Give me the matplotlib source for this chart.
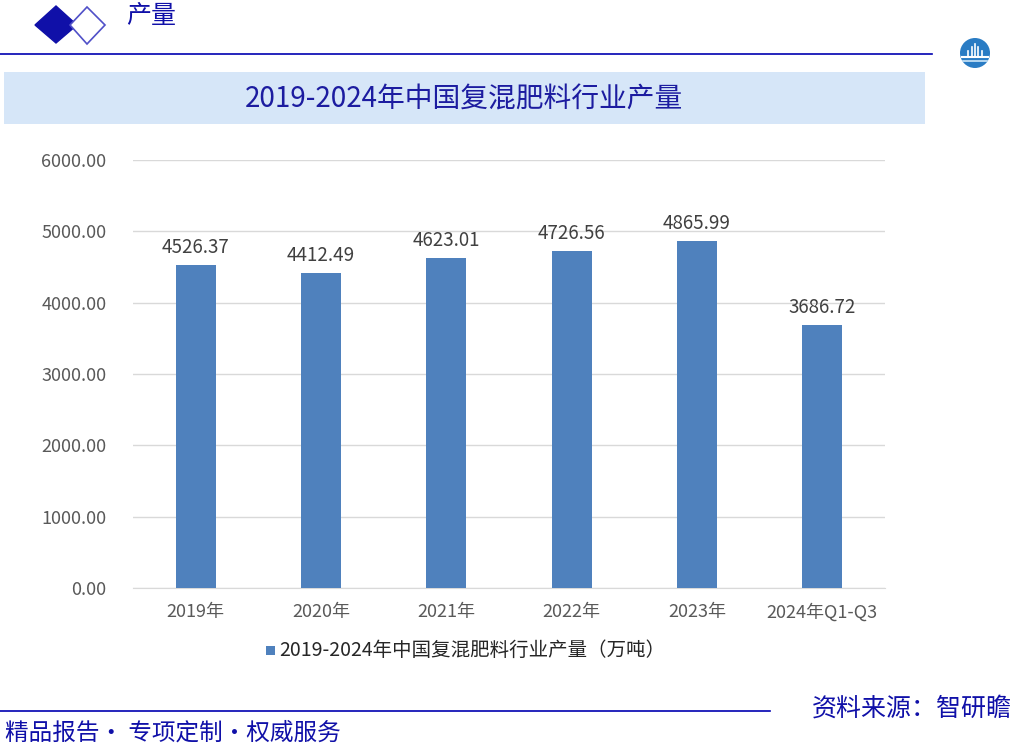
import matplotlib
matplotlib.use("Agg")
import matplotlib.pyplot as plt
from matplotlib.patches import Rectangle, Polygon, Ellipse

plt.rcParams['font.family'] = ['Noto Sans CJK SC', 'DejaVu Sans']

categories = ["2019年", "2020年", "2021年", "2022年", "2023年", "2024年Q1-Q3"]
values = [4526.37, 4412.49, 4623.01, 4726.56, 4865.99, 3686.72]
yticks = [0, 1000, 2000, 3000, 4000, 5000, 6000]
title = "2019-2024年中国复混肥料行业产量"
series_name = "2019-2024年中国复混肥料行业产量（万吨）"
header = "产量"
footer_left = "精品报告· 专项定制·权威服务"
footer_right = "资料来源：智研瞻"

W, H = 1015, 747
fig = plt.figure(figsize=(W / 100, H / 100), dpi=100)

def fx(px):
    return px / W

def fy(py):
    return 1 - py / H

# header decorations
navy = "#1010A8"
fig.patches.append(Polygon([(fx(35), fy(25)), (fx(56), fy(6)), (fx(77), fy(25)), (fx(56), fy(43))],
                           closed=True, facecolor=navy, edgecolor=navy, transform=fig.transFigure))
fig.patches.append(Polygon([(fx(70), fy(25)), (fx(87), fy(7)), (fx(105), fy(25)), (fx(87), fy(44))],
                           closed=True, facecolor="white", edgecolor="#5050C8", lw=1.2, transform=fig.transFigure))
fig.text(fx(126), fy(16), header, color=navy, fontsize=18, va="center", ha="left")
fig.add_artist(plt.Line2D([fx(0), fx(932)], [fy(54), fy(54)], color="#0000B0", lw=1.2, transform=fig.transFigure))

# logo
fig.patches.append(Ellipse((fx(975), fy(53)), 30 / W, 30 / H, facecolor="#2A7CC4", edgecolor="none",
                           transform=fig.transFigure))
fig.add_artist(plt.Line2D([fx(962), fx(988)], [fy(57), fy(57)], color="white", lw=1.5, transform=fig.transFigure))
fig.add_artist(plt.Line2D([fx(963), fx(987)], [fy(61), fy(61)], color="#CDE6F8", lw=1.2, transform=fig.transFigure))
for x0, h in [(968, 5), (972, 9), (975, 12), (978, 9), (982, 5)]:
    fig.add_artist(plt.Line2D([fx(x0), fx(x0)], [fy(56), fy(56 - h)], color="white", lw=1.2, transform=fig.transFigure))

# title band
fig.patches.append(Rectangle((fx(4), fy(124)), fx(925) - fx(4), fy(72) - fy(124),
                             facecolor="#D6E6F8", edgecolor="none", transform=fig.transFigure))
fig.text(fx(464), fy(99), title, color="#1C1CA0", fontsize=20, ha="center", va="center")

# main axes
ax = fig.add_axes([fx(133), fy(588), fx(885) - fx(133), fy(160) - fy(588)])
x = list(range(len(categories)))
ax.bar(x, values, width=0.32, color="#4F81BD", zorder=3)
ax.set_xlim(-0.5, len(categories) - 0.5)
ax.set_ylim(0, 6000)
ax.set_yticks(yticks)
ax.set_yticklabels([f"{v:.2f}" for v in yticks], color="#595959", fontsize=13)
ax.set_xticks(x)
ax.set_xticklabels(categories, color="#595959", fontsize=13)
ax.tick_params(axis="both", length=0)
ax.tick_params(axis="y", pad=19)
ax.tick_params(axis="x", pad=11)
ax.grid(axis="y", color="#D9D9D9", lw=1, zorder=0)
for s in ["top", "right", "left"]:
    ax.spines[s].set_visible(False)
ax.spines["bottom"].set_color("#D9D9D9")
for xi, v in zip(x, values):
    ax.annotate(f"{v:.2f}", (xi, v), xytext=(0, 5), textcoords="offset points",
                ha="center", va="bottom", fontsize=13.5, color="#404040")

# legend
fig.patches.append(Rectangle((fx(266), fy(655)), 9 / W, 9 / H, facecolor="#4F81BD",
                             edgecolor="none", transform=fig.transFigure))
fig.text(fx(279), fy(650), series_name, fontsize=14, color="#262626", ha="left", va="center")

# footer
fig.add_artist(plt.Line2D([fx(0), fx(770)], [fy(711), fy(711)], color="#0000B0", lw=1.2, transform=fig.transFigure))
fig.text(fx(5), fy(733), footer_left, color=navy, fontsize=17, ha="left", va="center")
fig.text(fx(1012), fy(709), footer_right, color=navy, fontsize=18, ha="right", va="center")

fig.savefig("out.png", dpi=100)
